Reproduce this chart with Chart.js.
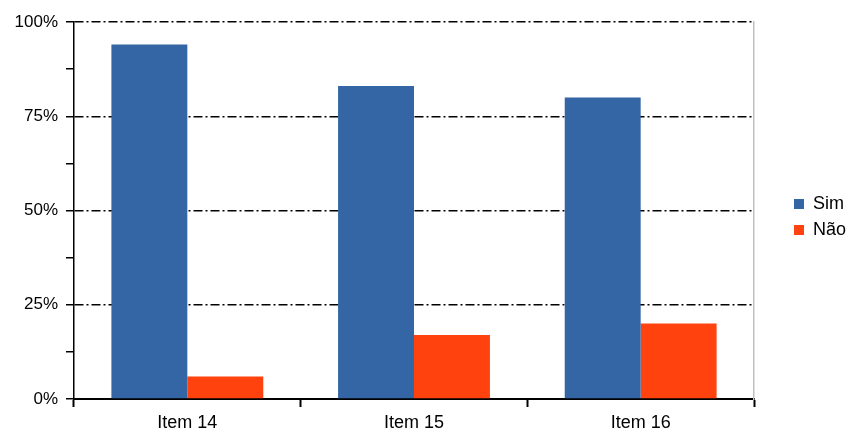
<!DOCTYPE html>
<html>
<head>
<meta charset="utf-8">
<script src="https://cdn.jsdelivr.net/npm/chart.js@4"></script>
<style>
  body { margin: 0; background: #fff; }
  #wrap { width: 850px; height: 432px; }
</style>
</head>
<body>
<div id="wrap"><canvas id="myChart" width="850" height="432"></canvas></div>
<script>
// data
var categories = ['Item 14', 'Item 15', 'Item 16'];
var simValues = [94, 83, 80];
var naoValues = [6, 17, 20];
var seriesNames = ['Sim', 'Não'];

var yFont = { family: 'Liberation Sans', size: 17 };
var xFont = { family: 'Liberation Sans', size: 18 };

// nudge the legend to where the original has it
var legendNudge = {
    id: 'legendNudge',
    afterLayout: function (chart) {
        var lg = chart.legend;
        var dx = 786 - lg.left, dy = -10;
        lg.left += dx; lg.right += dx;
        lg.top += dy; lg.bottom += dy;
    }
};

var ctx = document.getElementById('myChart').getContext('2d');
var chart = new Chart(ctx, {
    type: 'bar',
    data: {
        labels: categories,
        datasets: [{
            label: seriesNames[0],
            backgroundColor: '#3465A4',
            data: simValues
        }, {
            label: seriesNames[1],
            backgroundColor: '#FF420E',
            data: naoValues
        }]
    },
    plugins: [legendNudge],
    options: {
        responsive: false,
        animation: false,
        layout: { padding: { top: 22, left: 0, right: 0, bottom: 0 } },
        datasets: { bar: { categoryPercentage: 0.67, barPercentage: 1.0 } },
        plugins: {
            tooltip: { enabled: false },
            legend: {
                position: 'right',
                labels: {
                    boxWidth: 10, boxHeight: 10, padding: 8,
                    color: '#000',
                    font: xFont
                }
            }
        },
        scales: {
            x: {
                grid: { drawOnChartArea: false, offset: true, tickLength: 8, tickColor: '#000', tickWidth: 2 },
                border: { color: '#000', width: 2 },
                ticks: { color: '#000', padding: 5, font: xFont },
                afterFit: function (s) { s.height = 33; }
            },
            y: {
                position: 'left',
                min: 0, max: 100,
                ticks: {
                    stepSize: 12.5, autoSkip: false, padding: 8, color: '#000',
                    font: yFont,
                    callback: function (v) { return v % 25 === 0 ? v + '%' : ''; }
                },
                grid: {
                    tickLength: 8,
                    tickColor: '#000',
                    tickWidth: 1.5,
                    lineWidth: 1.5,
                    color: function (c) {
                        var v = c.tick ? c.tick.value : 0;
                        return (v % 25 === 0 && v !== 0) ? '#000' : 'rgba(0,0,0,0)';
                    }
                },
                border: { color: '#000', width: 1.5, dash: [9, 3, 2, 3] },
                afterFit: function (s) { s.width = 74; }
            },
            yR: {
                position: 'right',
                min: 0, max: 100,
                ticks: { display: false },
                grid: { drawOnChartArea: false, drawTicks: false },
                border: { color: '#c0c0c0', width: 1.5 },
                afterFit: function (s) { s.width = 850 - 754 - (s.chart.legend ? s.chart.legend.width : 70); }
            }
        }
    }
});
</script>
</body>
</html>
